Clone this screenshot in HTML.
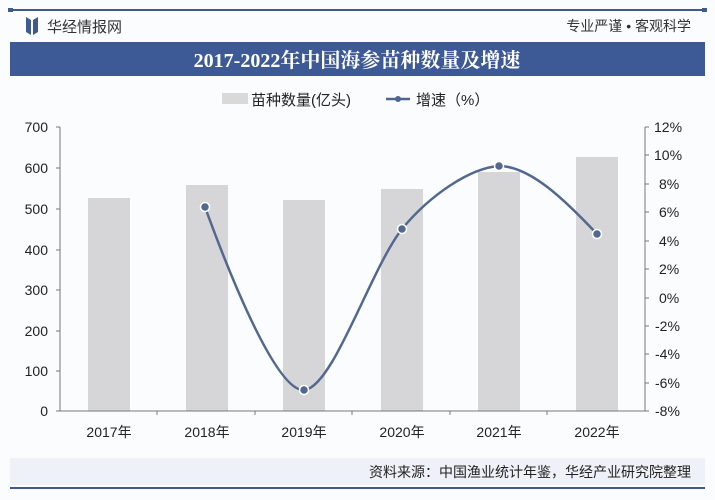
<!DOCTYPE html>
<html><head><meta charset="utf-8"><style>
body{margin:0;width:715px;height:500px;background:#fbfcfe;font-family:"Liberation Sans","Noto Sans CJK SC",sans-serif;overflow:hidden}
</style></head><body>
<svg width="715" height="500" viewBox="0 0 715 500" xmlns="http://www.w3.org/2000/svg" style="display:block">
<rect width="715" height="500" fill="#fbfcfe"/>
<line x1="10" y1="10" x2="705" y2="10" stroke="#3e5a8f" stroke-width="2"/>
<rect x="8" y="8" width="5" height="4" fill="#3e5a8f"/><rect x="702" y="8" width="5" height="4" fill="#3e5a8f"/>
<path d="M26 17 L31 20 L31 35 L26 32 Z M33 20 L38 17 L38 32 L33 35 Z" fill="#3e5a8f"/>
<text x="47" y="32" font-size="15" fill="#333">华经情报网</text>
<text x="691" y="31" font-size="14" fill="#333" text-anchor="end">专业严谨 • 客观科学</text>
<rect x="10" y="42" width="695" height="34" fill="#3e5a96"/>
<text x="357" y="67" font-size="20" font-weight="bold" fill="#fff" text-anchor="middle" font-family="'Liberation Serif','Noto Serif CJK SC',serif">2017-2022年中国海参苗种数量及增速</text>
<rect x="222" y="93" width="26" height="11" fill="#d9d9d9"/>
<text x="251" y="105" font-size="15" fill="#222">苗种数量(亿头)</text>
<line x1="386" y1="99" x2="410" y2="99" stroke="#4f6591" stroke-width="2.5"/><circle cx="398" cy="99" r="3" fill="#4f6591"/>
<text x="416" y="105" font-size="15" fill="#222">增速（%）</text>
<g fill="#d6d6d8">
<rect x="88" y="198" width="42" height="213"/>
<rect x="186" y="185" width="42" height="226"/>
<rect x="283" y="200" width="42" height="211"/>
<rect x="381" y="189" width="42" height="222"/>
<rect x="478" y="172" width="42" height="239"/>
<rect x="576" y="157" width="42" height="254"/>
</g>
<g stroke="#777" stroke-width="1">
<line x1="60" y1="127" x2="60" y2="411"/><line x1="645" y1="127" x2="645" y2="411"/>
<line x1="60" y1="411" x2="645" y2="411"/>
</g>
<g font-size="14" fill="#222" text-anchor="end">
<text x="48" y="132">700</text><text x="48" y="173">600</text><text x="48" y="214">500</text><text x="48" y="255">400</text><text x="48" y="295">300</text><text x="48" y="336">200</text><text x="48" y="376">100</text><text x="48" y="416">0</text>
</g>
<g stroke="#777"><line x1="56" y1="127" x2="60" y2="127"/><line x1="56" y1="168" x2="60" y2="168"/><line x1="56" y1="209" x2="60" y2="209"/><line x1="56" y1="250" x2="60" y2="250"/><line x1="56" y1="290" x2="60" y2="290"/><line x1="56" y1="331" x2="60" y2="331"/><line x1="56" y1="371" x2="60" y2="371"/><line x1="56" y1="411" x2="60" y2="411"/>
<line x1="157" y1="411" x2="157" y2="415"/><line x1="255" y1="411" x2="255" y2="415"/><line x1="352" y1="411" x2="352" y2="415"/><line x1="450" y1="411" x2="450" y2="415"/><line x1="547" y1="411" x2="547" y2="415"/>
<line x1="645" y1="127" x2="649" y2="127"/><line x1="645" y1="155" x2="649" y2="155"/><line x1="645" y1="184" x2="649" y2="184"/><line x1="645" y1="212" x2="649" y2="212"/><line x1="645" y1="241" x2="649" y2="241"/><line x1="645" y1="269" x2="649" y2="269"/><line x1="645" y1="298" x2="649" y2="298"/><line x1="645" y1="326" x2="649" y2="326"/><line x1="645" y1="354" x2="649" y2="354"/><line x1="645" y1="383" x2="649" y2="383"/><line x1="645" y1="411" x2="649" y2="411"/>
</g>
<g font-size="14" fill="#222" text-anchor="start">
<text x="654" y="132">12%</text><text x="654" y="160">10%</text><text x="659" y="189">8%</text><text x="659" y="217">6%</text><text x="659" y="246">4%</text><text x="659" y="274">2%</text><text x="659" y="303">0%</text><text x="655" y="331">-2%</text><text x="655" y="359">-4%</text><text x="655" y="388">-6%</text><text x="655" y="416">-8%</text>
</g>
<g font-size="14" fill="#222" text-anchor="middle">
<text x="109" y="437">2017年</text><text x="207" y="437">2018年</text><text x="304" y="437">2019年</text><text x="402" y="437">2020年</text><text x="499" y="437">2021年</text><text x="597" y="437">2022年</text>
</g>
<path d="M205 207 C225 262,275 392,304 390 C333 388,370 270,402 229 C430 195,470 168,499 166 C530 166,565 200,597 234" fill="none" stroke="#52688f" stroke-width="2.5"/>
<g fill="#52688f" stroke="#fff" stroke-width="1.5">
<circle cx="205" cy="207" r="4.5"/><circle cx="304" cy="390" r="4.5"/><circle cx="402" cy="229" r="4.5"/><circle cx="499" cy="166" r="4.5"/><circle cx="597" cy="234" r="4.5"/>
</g>
<rect x="10" y="458" width="695" height="27" fill="#eef1f7"/>
<text x="691" y="477" font-size="14" fill="#222" text-anchor="end">资料来源：中国渔业统计年鉴，华经产业研究院整理</text>
<line x1="10" y1="488" x2="705" y2="488" stroke="#3e5a8f" stroke-width="2"/>
</svg>
</body></html>
